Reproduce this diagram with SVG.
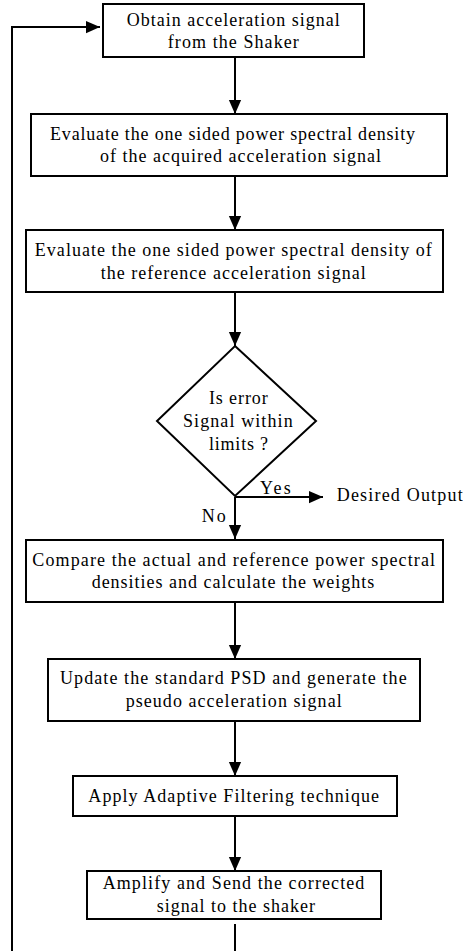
<svg xmlns="http://www.w3.org/2000/svg" width="463" height="951" viewBox="0 0 463 951">
<style>
.box{fill:#fff;stroke:#000;stroke-width:2}
.ln{fill:none;stroke:#000;stroke-width:2}
text{font-family:"Liberation Serif","Times New Roman",serif;font-size:18px;fill:#000;text-anchor:middle}
.lbl{text-anchor:start}
</style>
<defs>
<marker id="av" markerWidth="14" markerHeight="16" refX="16" refY="7" orient="auto" markerUnits="userSpaceOnUse" viewBox="0 0 16 14">
<path d="M0,0 L16,7 L0,14 Z" fill="#000"/>
</marker>
</defs>
<g id="connectors">
<line class="ln" x1="235" y1="57" x2="235" y2="114" marker-end="url(#av)"/>
<line class="ln" x1="235" y1="176" x2="235" y2="230" marker-end="url(#av)"/>
<line class="ln" x1="235" y1="292" x2="235" y2="346" marker-end="url(#av)"/>
<line class="ln" x1="235" y1="497" x2="323" y2="497" marker-end="url(#av)"/>
<line class="ln" x1="235" y1="497" x2="235" y2="539" marker-end="url(#av)"/>
<line class="ln" x1="235" y1="602" x2="235" y2="659" marker-end="url(#av)"/>
<line class="ln" x1="235" y1="721" x2="235" y2="776" marker-end="url(#av)"/>
<line class="ln" x1="235" y1="816" x2="235" y2="871" marker-end="url(#av)"/>
<line class="ln" x1="235" y1="924" x2="235" y2="951"/>
<polyline class="ln" points="12,951 12,27 100,27" marker-end="url(#av)"/>
<text class="lbl" x="260" y="494" textLength="30.7" lengthAdjust="spacing">Yes</text>
<text class="lbl" x="336.7" y="501" textLength="126" lengthAdjust="spacing">Desired Output</text>
<text class="lbl" x="201.7" y="522" textLength="24" lengthAdjust="spacing">No</text>
</g>
<g id="n1">
<rect class="box" x="103" y="4" width="261" height="53"/>
<text x="233.3" y="26" textLength="213" lengthAdjust="spacing">Obtain acceleration signal</text>
<text x="233.3" y="48" textLength="131" lengthAdjust="spacing">from the Shaker</text>
</g>
<g id="n2">
<rect class="box" x="31" y="114" width="416" height="62"/>
<text x="232.5" y="140" textLength="365" lengthAdjust="spacing">Evaluate the one sided power spectral density</text>
<text x="240.5" y="162" textLength="281" lengthAdjust="spacing">of the acquired acceleration signal</text>
</g>
<g id="n3">
<rect class="box" x="26" y="230" width="417" height="62"/>
<text x="233.3" y="256" textLength="397" lengthAdjust="spacing">Evaluate the one sided power spectral density of</text>
<text x="233.2" y="279" textLength="265" lengthAdjust="spacing">the reference acceleration signal</text>
</g>
<g id="n4">
<polygon class="box" points="235,346 316,421 235,496 157,421"/>
<text x="238.3" y="404" textLength="58.7" lengthAdjust="spacing">Is error</text>
<text x="237.8" y="427" textLength="109.7" lengthAdjust="spacing">Signal within</text>
<text x="238.5" y="450" textLength="59" lengthAdjust="spacing">limits ?</text>
</g>
<g id="n5">
<rect class="box" x="26" y="540" width="417" height="62"/>
<text x="233.7" y="566" textLength="402.7" lengthAdjust="spacing">Compare the actual and reference power spectral</text>
<text x="233" y="588" textLength="282.7" lengthAdjust="spacing">densities and calculate the weights</text>
</g>
<g id="n6">
<rect class="box" x="48" y="659" width="372" height="62"/>
<text x="233.3" y="684" textLength="346.7" lengthAdjust="spacing">Update the standard PSD and generate the</text>
<text x="233.7" y="707" textLength="216" lengthAdjust="spacing">pseudo acceleration signal</text>
</g>
<g id="n7">
<rect class="box" x="73" y="776" width="324" height="40"/>
<text x="233.7" y="802" textLength="290.7" lengthAdjust="spacing">Apply Adaptive Filtering technique</text>
</g>
<g id="n8">
<rect class="box" x="87" y="871" width="294" height="48"/>
<text x="233.5" y="889" textLength="261.7" lengthAdjust="spacing">Amplify and Send the corrected</text>
<text x="235.8" y="912" textLength="158.3" lengthAdjust="spacing">signal to the shaker</text>
</g>
</svg>
